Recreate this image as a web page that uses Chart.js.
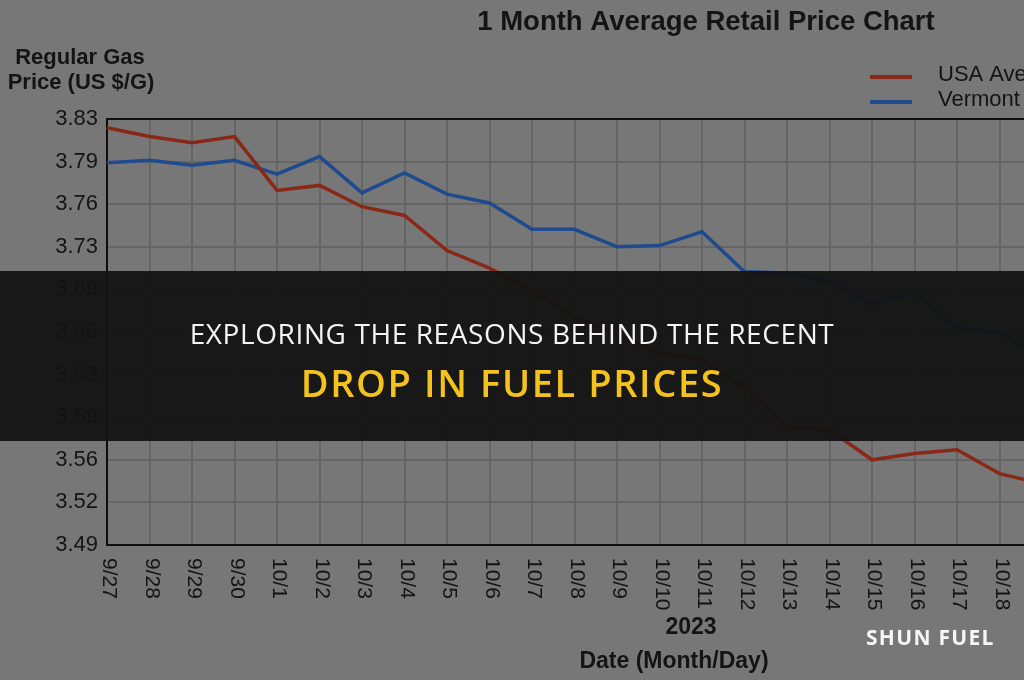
<!DOCTYPE html>
<html>
<head>
<meta charset="utf-8">
<script src="https://cdn.jsdelivr.net/npm/chart.js@4.4.1/dist/chart.umd.min.js"></script>
<style>
  html, body { margin: 0; padding: 0; background: #777777; width: 1024px; height: 680px; overflow: hidden; }
  #wrap { position: absolute; left: 0; top: 0; width: 1060px; height: 680px; }
  .banner { position: absolute; left: 0; top: 271px; width: 1024px; height: 170px; background: rgba(18,18,18,0.94); }
  .b1 { position: absolute; left: 0; width: 1024px; top: 314px; text-align: center; color: #f4f4f4;
        font: 400 28px "Open Sans", sans-serif; letter-spacing: 0.6px; line-height: 38px; }
  .b2 { position: absolute; left: 0; width: 1024px; top: 356px; text-align: center; color: #f3c21c;
        font: 600 38px "Open Sans", sans-serif; letter-spacing: 1.6px; line-height: 52px; }
  .brand { position: absolute; left: 866px; top: 624px; color: #f6f6f6;
           font: 700 21px "Open Sans", sans-serif; letter-spacing: 1.3px; line-height: 26px; }
</style>
</head>
<body>
<div id="wrap"><canvas id="ch"></canvas></div>
<div class="banner"></div>
<div class="b1">EXPLORING THE REASONS BEHIND THE RECENT</div>
<div class="b2">DROP IN FUEL PRICES</div>
<div class="brand">SHUN FUEL</div>

<script>
/* ── data ── */
const DAYS = ['9/27','9/28','9/29','9/30','10/1','10/2','10/3','10/4','10/5','10/6','10/7',
              '10/8','10/9','10/10','10/11','10/12','10/13','10/14','10/15','10/16','10/17','10/18','10/19'];
const USA_AVG = [3.823, 3.816, 3.811, 3.816, 3.773, 3.777, 3.760, 3.753, 3.725, 3.711, 3.693,
                 3.672, 3.658, 3.643, 3.638, 3.616, 3.584, 3.582, 3.558, 3.563, 3.566, 3.547, 3.539];
const VT_AVG  = [3.795, 3.797, 3.793, 3.797, 3.786, 3.800, 3.771, 3.787, 3.770, 3.763, 3.742,
                 3.742, 3.728, 3.729, 3.740, 3.708, 3.707, 3.700, 3.682, 3.692, 3.663, 3.660, 3.637];
const Y_LABELS = ['3.49','3.52','3.56','3.59','3.63','3.66','3.69','3.73','3.76','3.79','3.83'];
const Y_MIN = 3.49, Y_MAX = 3.83;

const TXT  = '#141414';
const GRID = '#656565';
const RED  = '#8a2818';
const BLUE = '#1f4b8e';

// ── title, legend, axis titles and rotated day labels ──
const decor = {
  id: 'decor',
  beforeDatasetsDraw(chart) {
    const { ctx, chartArea: a } = chart;
    ctx.save();
    ctx.strokeStyle = '#0e0e0e';
    ctx.lineWidth = 2;
    ctx.strokeRect(a.left, a.top, a.right - a.left, a.bottom - a.top);
    ctx.restore();
  },
  afterDraw(chart) {
    const { ctx } = chart;
    const xs = chart.scales.x;
    ctx.save();
    ctx.fillStyle = TXT;

    ctx.textAlign = 'center';
    ctx.textBaseline = 'middle';
    ctx.font = 'bold 27.5px "Liberation Sans", Arial, sans-serif';
    ctx.fillText('1 Month Average Retail Price Chart', 706, 22);

    ctx.font = 'bold 22px "Liberation Sans", Arial, sans-serif';
    ctx.fillText('Regular Gas', 80, 58);
    ctx.fillText('Price (US $/G)', 81, 83);

    // day labels, reading downwards
    ctx.font = '21px "Liberation Sans", Arial, sans-serif';
    ctx.textAlign = 'left';
    DAYS.forEach((d, i) => {
      const x = xs.getPixelForValue(i);
      ctx.save();
      ctx.translate(x + 2, 558);
      ctx.rotate(Math.PI / 2);
      ctx.fillText(d, 0, 0);
      ctx.restore();
    });

    ctx.textAlign = 'center';
    ctx.font = 'bold 23px "Liberation Sans", Arial, sans-serif';
    ctx.fillText('2023', 691, 628);
    ctx.fillText('Date (Month/Day)', 674, 662);

    // legend
    ctx.textAlign = 'left';
    ctx.font = '22px "Liberation Sans", Arial, sans-serif';
    chart.data.datasets.forEach((ds, i) => {
      const y = 77 + i * 25;
      ctx.strokeStyle = ds.borderColor;
      ctx.lineWidth = 4;
      ctx.beginPath();
      ctx.moveTo(870, y);
      ctx.lineTo(912, y);
      ctx.stroke();
      ctx.fillText(ds.label, 938, y - 2);
    });
    ctx.restore();
  }
};

new Chart(document.getElementById('ch'), {
  type: 'line',
  data: {
    labels: DAYS,
    datasets: [
      { label: 'USA Average', data: USA_AVG, borderColor: RED, borderWidth: 3.5,
        pointRadius: 0, tension: 0, fill: false },
      { label: 'Vermont Average', data: VT_AVG, borderColor: BLUE, borderWidth: 3.5,
        pointRadius: 0, tension: 0, fill: false }
    ]
  },
  options: {
    responsive: true, maintainAspectRatio: false, animation: false,
    layout: { padding: { top: 119, right: 18, left: 0, bottom: 0 } },
    plugins: { legend: { display: false }, title: { display: false }, tooltip: { enabled: false } },
    scales: {
      x: {
        offset: false,
        grid: { color: GRID, lineWidth: 2, drawTicks: false },
        border: { display: false },
        ticks: { display: false },
        afterFit: s => { s.height = 135; }
      },
      y: {
        min: Y_MIN, max: Y_MAX,
        grid: { color: GRID, lineWidth: 2, drawTicks: false },
        border: { display: false },
        afterBuildTicks: s => {
          s.ticks = Y_LABELS.map((l, i) => ({ value: Y_MIN + i * (Y_MAX - Y_MIN) / (Y_LABELS.length - 1) }));
        },
        ticks: {
          color: TXT, padding: 9,
          font: { family: '"Liberation Sans", Arial, sans-serif', size: 22 },
          callback: (v, i) => Y_LABELS[i]
        },
        afterFit: s => { s.width = 107; }
      }
    }
  },
  plugins: [decor]
});
</script>
</body>
</html>
